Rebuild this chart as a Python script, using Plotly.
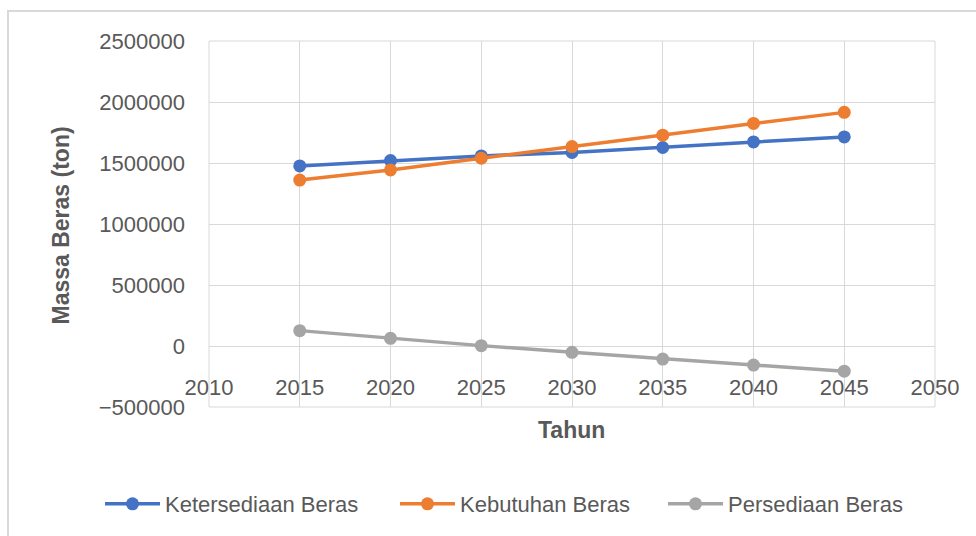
import plotly.graph_objects as go

years = [2015, 2020, 2025, 2030, 2035, 2040, 2045]
ketersediaan = [1476000, 1520000, 1558000, 1586000, 1627000, 1673000, 1714000]
kebutuhan = [1360000, 1443000, 1539000, 1635000, 1728000, 1824000, 1915000]
persediaan = [126000, 63000, 3000, -52000, -107000, -156000, -206000]

series_names = ["Ketersediaan Beras", "Kebutuhan Beras", "Persediaan Beras"]
series_colors = ["#4472C4", "#ED7D31", "#A5A5A5"]
y_ticks = [-500000, 0, 500000, 1000000, 1500000, 2000000, 2500000]
x_ticks = [2010, 2015, 2020, 2025, 2030, 2035, 2040, 2045, 2050]

FONT = "Liberation Sans"
TXT = "#595959"
GRID = "#D9D9D9"

W, H = 976, 536
L, R, T, B = 209, 935, 41, 408
pw, ph = R - L, B - T

def px_x(p):
    return (p - L) / pw

def px_y(p):
    return (B - p) / ph

legend_ids = ["legend", "legend2", "legend3"]
legend_px = [100, 395, 663]

fig = go.Figure()
for name, vals, col, lg in zip(series_names, [ketersediaan, kebutuhan, persediaan], series_colors, legend_ids):
    fig.add_trace(go.Scatter(
        x=years, y=vals, name=name, mode="lines+markers",
        line=dict(color=col, width=3.5),
        marker=dict(color=col, size=13),
        legend=lg,
    ))

legend_common = dict(
    orientation="h", xref="paper", xanchor="left",
    y=px_y(504), yanchor="middle",
    font=dict(size=22, color=TXT, family=FONT),
    itemwidth=55, bgcolor="rgba(0,0,0,0)",
)

fig.update_layout(
    width=W, height=H,
    margin=dict(l=L, r=W - R, t=T, b=H - B),
    paper_bgcolor="white", plot_bgcolor="white",
    font=dict(family=FONT, color=TXT, size=22),
    showlegend=True,
    legend=dict(x=px_x(legend_px[0]), **legend_common),
    legend2=dict(x=px_x(legend_px[1]), **legend_common),
    legend3=dict(x=px_x(legend_px[2]), **legend_common),
    xaxis=dict(
        range=[2010, 2050], tickvals=x_ticks, showgrid=True, gridcolor=GRID, gridwidth=1,
        zeroline=False, showline=False, anchor="free", position=px_y(373),
        ticks="", tickfont=dict(size=22, color=TXT, family=FONT),
    ),
    yaxis=dict(
        range=[-500000, 2500000], tickvals=y_ticks, tickformat=".0f",
        showgrid=True, gridcolor=GRID, gridwidth=1,
        zeroline=True, zerolinecolor=GRID, zerolinewidth=1, showline=False,
        ticks="", ticklabelstandoff=23,
        tickfont=dict(size=22, color=TXT, family=FONT),
    ),
    annotations=[
        dict(text="<b>Tahun</b>", x=px_x(571), y=px_y(431), xref="paper", yref="paper",
             showarrow=False, font=dict(size=23, color=TXT, family=FONT),
             xanchor="center", yanchor="middle"),
        dict(text="<b>Massa Beras (ton)</b>", x=px_x(61), y=px_y(226), xref="paper", yref="paper",
             showarrow=False, textangle=-90, font=dict(size=23, color=TXT, family=FONT),
             xanchor="center", yanchor="middle"),
    ],
    shapes=[
        dict(type="rect", xref="paper", yref="paper",
             x0=px_x(8), x1=px_x(1000), y0=px_y(560), y1=px_y(11),
             line=dict(color=GRID, width=2), fillcolor="rgba(0,0,0,0)", layer="below"),
        dict(type="rect", xref="paper", yref="paper", x0=0, x1=1, y0=0, y1=1,
             line=dict(color=GRID, width=1), fillcolor="rgba(0,0,0,0)", layer="below"),
    ],
)

fig.write_html("out.html")
